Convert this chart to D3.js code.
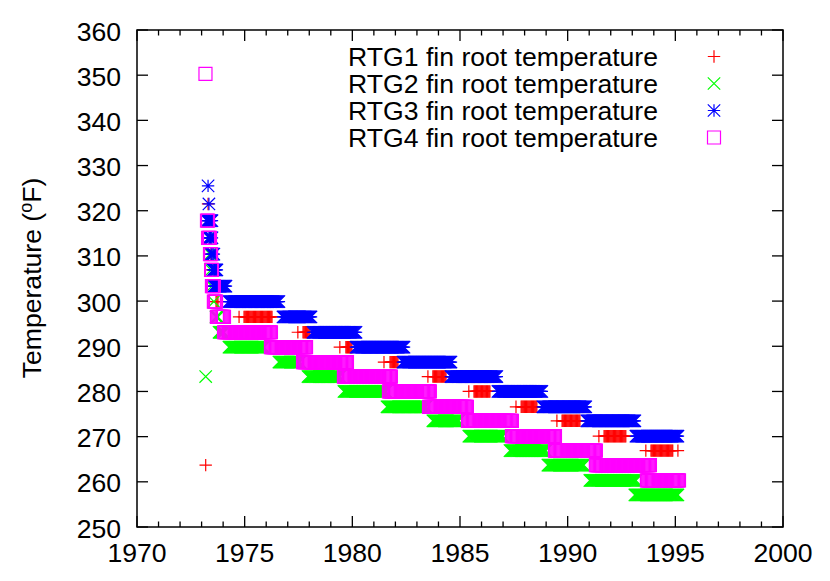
<!DOCTYPE html>
<html>
<head>
<meta charset="utf-8">
<script src="https://cdn.jsdelivr.net/npm/d3@7/dist/d3.min.js"></script>
<style>
  html, body { margin: 0; padding: 0; background: #fff; }
  svg text { font-family: "Liberation Sans", Arial, Helvetica, sans-serif; fill: #000; }
</style>
</head>
<body>
<svg id="chart" width="830" height="581"></svg>
<script>
// ---- Data: runs of telemetry samples [startYear, endYear, temperature °F] ----
const rtg1Runs = [
  [1973.19, 1973.19, 263.7],
  [1973.30, 1973.30, 321.5], [1973.30, 1973.32, 317.8], [1973.39, 1973.40, 314.0],
  [1973.44, 1973.45, 310.4], [1973.48, 1973.50, 306.9], [1973.53, 1973.55, 303.3],
  [1973.67, 1973.76, 299.9],
  [1974.74, 1974.74, 296.5], [1974.97, 1976.27, 296.5],
  [1977.47, 1977.47, 293.1], [1977.71, 1978.03, 293.1],
  [1979.42, 1979.42, 289.8], [1979.70, 1979.98, 289.8],
  [1981.47, 1981.47, 286.5], [1981.75, 1982.12, 286.5],
  [1983.51, 1983.51, 283.3], [1983.74, 1984.35, 283.3],
  [1985.41, 1985.41, 280.0], [1985.65, 1986.39, 280.0],
  [1987.60, 1987.60, 276.6], [1987.84, 1988.57, 276.6],
  [1989.50, 1989.50, 273.5], [1989.74, 1990.57, 273.5],
  [1991.45, 1991.45, 270.1], [1991.69, 1992.70, 270.1],
  [1993.63, 1993.63, 266.9], [1993.87, 1994.88, 266.9], [1995.12, 1995.12, 266.9]
];
const rtg2Runs = [
  [1973.19, 1973.19, 283.3],
  [1973.30, 1973.30, 317.8], [1973.34, 1973.34, 314.0], [1973.39, 1973.39, 310.4],
  [1973.44, 1973.44, 306.9], [1973.48, 1973.48, 303.3], [1973.57, 1973.57, 299.9],
  [1973.67, 1973.76, 296.5], [1973.81, 1974.04, 293.1],
  [1974.27, 1975.89, 289.8], [1976.59, 1977.57, 286.5], [1977.94, 1979.42, 283.3],
  [1979.61, 1981.56, 280.0], [1981.61, 1983.42, 276.6], [1983.74, 1984.95, 273.5],
  [1985.41, 1986.99, 270.1], [1987.32, 1988.99, 266.9], [1989.08, 1990.75, 263.7],
  [1991.03, 1993.17, 260.3], [1993.12, 1995.12, 257.1]
];
const rtg3Runs = [
  [1973.30, 1973.30, 325.5], [1973.34, 1973.34, 321.5],
  [1973.25, 1973.48, 317.8], [1973.34, 1973.48, 314.0], [1973.44, 1973.57, 310.4],
  [1973.53, 1973.71, 306.9], [1973.57, 1974.13, 303.3],
  [1974.27, 1976.59, 299.9], [1976.78, 1978.08, 296.5], [1978.17, 1980.17, 293.1],
  [1980.17, 1982.40, 289.8], [1982.35, 1984.58, 286.5], [1984.58, 1986.71, 283.3],
  [1986.76, 1988.80, 280.0], [1988.85, 1990.84, 276.6], [1990.89, 1993.12, 273.5],
  [1993.17, 1995.12, 270.1]
];
const rtg4Runs = [
  [1973.18, 1973.18, 350.3],
  [1973.25, 1973.30, 317.8], [1973.30, 1973.39, 314.0], [1973.39, 1973.44, 310.4],
  [1973.44, 1973.48, 306.9], [1973.48, 1973.57, 303.3], [1973.57, 1973.67, 299.9],
  [1973.71, 1974.04, 296.5], [1974.04, 1976.22, 293.1], [1976.22, 1977.85, 289.8],
  [1977.71, 1979.75, 286.5], [1979.61, 1981.79, 283.3], [1981.70, 1983.60, 280.0],
  [1983.56, 1985.32, 276.6], [1985.37, 1987.41, 273.5], [1987.41, 1989.41, 270.1],
  [1989.41, 1991.31, 266.9], [1991.31, 1993.82, 263.7], [1993.68, 1995.17, 260.3]
];
const seriesNames = ["RTG1 fin root temperature", "RTG2 fin root temperature",
                     "RTG3 fin root temperature", "RTG4 fin root temperature"];
const seriesColors = ["#ff0000", "#00ff00", "#0000ff", "#ff00ff"];
const seriesShapes = ["plus", "cross", "star", "square"];
const xTicks = [1970, 1975, 1980, 1985, 1990, 1995, 2000];
const yTicks = [250, 260, 270, 280, 290, 300, 310, 320, 330, 340, 350, 360];
const sampleStep = 0.04; // telemetry sample spacing within a run (years)

// ---- Layout ----
const svg = d3.select("#chart");
const L = 137, R = 783, T = 30, B = 527;
const x = d3.scaleLinear().domain([1970, 2000]).range([L, R]);
const y = d3.scaleLinear().domain([250, 360]).range([B, T]);
const FS = 26.6;

// marker path generator
function marker(shape, cx, cy) {
  const s = 6.2, q = 6.5;
  switch (shape) {
    case "plus":  return `M${cx - s},${cy}H${cx + s}M${cx},${cy - s}V${cy + s}`;
    case "cross": return `M${cx - s},${cy - s}L${cx + s},${cy + s}M${cx - s},${cy + s}L${cx + s},${cy - s}`;
    case "star":  return `M${cx - s},${cy}H${cx + s}M${cx},${cy - s}V${cy + s}` +
                         `M${cx - s},${cy - s}L${cx + s},${cy + s}M${cx - s},${cy + s}L${cx + s},${cy - s}`;
    case "square": return `M${cx - q},${cy - q}H${cx + q}V${cy + q}H${cx - q}Z`;
  }
}

function samples(runs) {
  const pts = [];
  runs.forEach(([a, b, t]) => {
    const n = Math.max(0, Math.round((b - a) / sampleStep));
    for (let i = 0; i <= n; i++) pts.push([n === 0 ? a : a + (b - a) * i / n, t]);
  });
  return pts;
}

// ---- Data marks ----
const allRuns = [rtg1Runs, rtg2Runs, rtg3Runs, rtg4Runs];
allRuns.forEach((runs, i) => {
  const pts = samples(runs);
  svg.append("g")
    .selectAll("path")
    .data(pts)
    .join("path")
    .attr("d", d => marker(seriesShapes[i], x(d[0]), y(d[1])))
    .attr("fill", "none")
    .attr("stroke", seriesColors[i])
    .attr("stroke-width", 1.2);
});

// ---- Frame and ticks ----
const axisG = svg.append("g").attr("stroke", "#000").attr("stroke-width", 1.3);
const major = 11, minor = 5.5;
xTicks.forEach(v => {
  axisG.append("line").attr("x1", x(v)).attr("x2", x(v)).attr("y1", B).attr("y2", B - major);
  axisG.append("line").attr("x1", x(v)).attr("x2", x(v)).attr("y1", T).attr("y2", T + major);
});
d3.range(1970, 2001).filter(v => v % 5 !== 0).forEach(v => {
  axisG.append("line").attr("x1", x(v)).attr("x2", x(v)).attr("y1", B).attr("y2", B - minor);
  axisG.append("line").attr("x1", x(v)).attr("x2", x(v)).attr("y1", T).attr("y2", T + minor);
});
yTicks.forEach(v => {
  axisG.append("line").attr("x1", L).attr("x2", L + major).attr("y1", y(v)).attr("y2", y(v));
  axisG.append("line").attr("x1", R).attr("x2", R - major).attr("y1", y(v)).attr("y2", y(v));
});
svg.append("rect").attr("x", L).attr("y", T).attr("width", R - L).attr("height", B - T)
  .attr("fill", "none").attr("stroke", "#000").attr("stroke-width", 1.5);

// tick labels
svg.append("g").selectAll("text").data(xTicks).join("text")
  .attr("x", d => x(d)).attr("y", 553)
  .attr("text-anchor", "middle").attr("dominant-baseline", "central")
  .attr("font-size", FS).text(d => d);
svg.append("g").selectAll("text").data(yTicks).join("text")
  .attr("x", 121).attr("y", d => y(d) + 1.5)
  .attr("text-anchor", "end").attr("dominant-baseline", "central")
  .attr("font-size", FS).text(d => d);

// y-axis title
const yl = svg.append("text")
  .attr("transform", "translate(41,278) rotate(-90)")
  .attr("text-anchor", "middle").attr("font-size", FS);
yl.append("tspan").text("Temperature (");
yl.append("tspan").attr("font-size", 18).attr("dy", -9).text("o");
yl.append("tspan").attr("dy", 9).text("F)");

// ---- Legend ----
const legendY = [56.5, 83.5, 110.5, 137.5];
seriesNames.forEach((name, i) => {
  svg.append("text").attr("x", 658).attr("y", legendY[i])
    .attr("text-anchor", "end").attr("dominant-baseline", "central")
    .attr("font-size", FS).text(name);
  svg.append("path").attr("d", marker(seriesShapes[i], 714, legendY[i]))
    .attr("fill", "none").attr("stroke", seriesColors[i]).attr("stroke-width", 1.2);
});
</script>
</body>
</html>
